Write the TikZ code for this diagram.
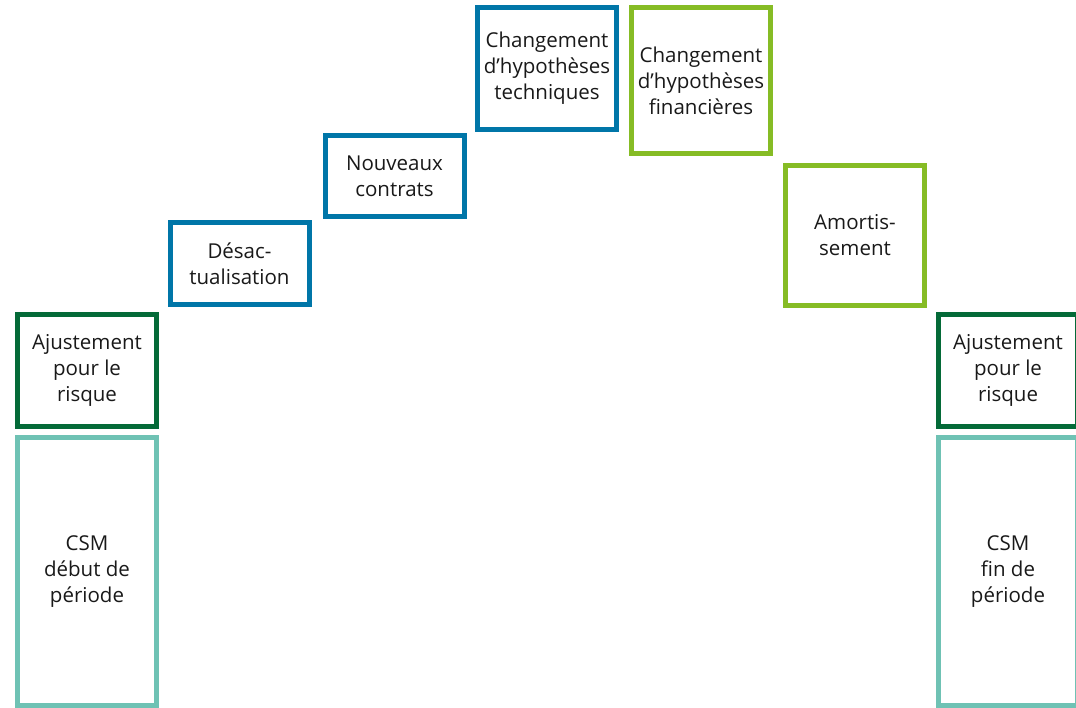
\documentclass[tikz,border=0pt]{standalone}
\usepackage{fontspec}
\setmainfont{Open Sans}
\usetikzlibrary{positioning}
\definecolor{darkgreen}{HTML}{046A38}
\definecolor{tealgreen}{HTML}{6FC2B4}
\definecolor{midblue}{HTML}{0076A8}
\definecolor{lightgreen}{HTML}{86BC25}
\begin{document}
\begin{tikzpicture}[x=1pt, y=-1pt,
    box/.style={draw, line width=5pt, rectangle, minimum width=139pt, inner sep=0pt,
        align=center, font=\fontsize{20.5}{26}\selectfont, text=black!90}]
    \useasboundingbox (0,0) rectangle (1076,708);
    % Define nodes
    \node [box, draw=darkgreen, minimum height=112pt] (AjustDeb) at (87,370.5) {Ajustement\\pour le\\risque};
    \node [box, draw=tealgreen, minimum height=268pt] (CSMdeb) at (87,571.5) {CSM\\début de\\période};
    \node [box, draw=midblue, minimum height=82pt] (Desact) at (239.5,263.5) {Désac-\\tualisation};
    \node [box, draw=midblue, minimum height=81pt] (Nouveaux) at (394.5,176) {Nouveaux\\contrats};
    \node [box, draw=midblue, minimum height=122pt] (HypTech) at (547,68.5) {Changement\\d’hypothèses\\techniques};
    \node [box, draw=lightgreen, minimum height=146pt] (HypFin) at (701,80.5) {Changement\\d’hypothèses\\financières};
    \node [box, draw=lightgreen, minimum height=140pt] (Amort) at (855,235.5) {Amortis-\\sement};
    \node [box, draw=darkgreen, minimum height=112pt] (AjustFin) at (1008,370.5) {Ajustement\\pour le\\risque};
    \node [box, draw=tealgreen, minimum height=268pt] (CSMfin) at (1008,571.5) {CSM\\fin de\\période};
\end{tikzpicture}
\end{document}
